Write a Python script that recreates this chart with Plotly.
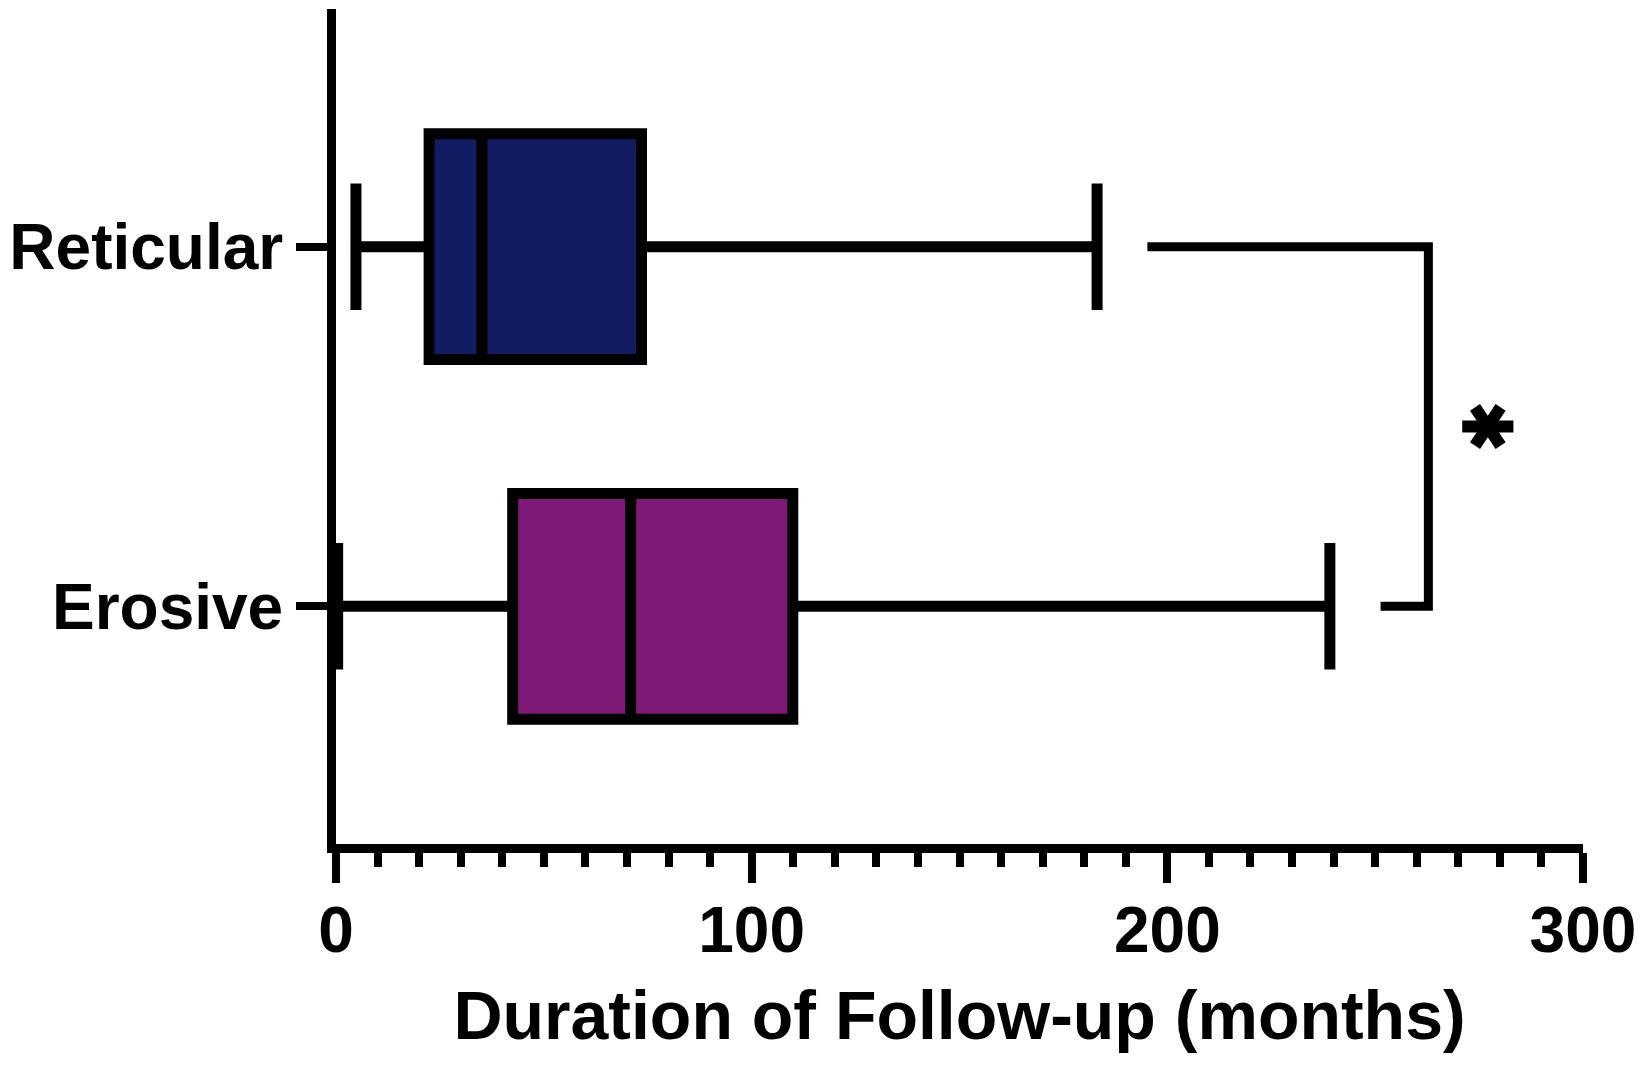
import plotly.graph_objects as go

# box summary values (months)
groups = ["Reticular", "Erosive"]
q1 = [22.4, 42.5]
median = [35.1, 70.9]
q3 = [73.5, 109.9]
lower = [4.8, 0.4]
upper = [183.1, 239.1]
fills = ["#131C63", "#7E1A76"]

# significance bracket between the two groups
bracket_x = [195.2, 262.8, 262.8, 251.3]
bracket_y = ["Reticular", "Reticular", "Erosive", "Erosive"]
star_x = 277.1
star_y = 0.5

x_ticks = [0, 100, 200, 300]
y_range = [-0.661, 1.661]

fig = go.Figure()

for i, g in enumerate(groups):
    fig.add_trace(go.Box(
        y=[g],
        q1=[q1[i]],
        median=[median[i]],
        q3=[q3[i]],
        lowerfence=[lower[i]],
        upperfence=[upper[i]],
        orientation="h",
        boxpoints=False,
        fillcolor=fills[i],
        line=dict(color="black", width=11),
        width=0.628,
        whiskerwidth=0.56,
        showlegend=False,
        hoverinfo="skip",
    ))

fig.add_trace(go.Scatter(
    x=bracket_x,
    y=bracket_y,
    mode="lines",
    line=dict(color="black", width=9),
    showlegend=False,
    hoverinfo="skip",
))

# asterisk: two three-armed symbols on top of each other
for sym in ["y-right-open", "y-left-open"]:
    fig.add_trace(go.Scatter(
        x=[star_x], y=[star_y], yaxis="y2",
        mode="markers",
        marker=dict(symbol=sym, size=32, color="black",
                    line=dict(color="black", width=12)),
        showlegend=False,
        hoverinfo="skip",
    ))

tick_font = dict(family="Liberation Sans", size=64, color="black", weight="bold")

fig.update_xaxes(
    range=[0, 300],
    tickvals=x_ticks,
    showline=True, linewidth=9, linecolor="black",
    ticks="outside", ticklen=30, tickwidth=8, tickcolor="black",
    minor=dict(dtick=10, ticks="outside", ticklen=14, tickwidth=8, tickcolor="black", showgrid=False),
    showgrid=False, zeroline=False,
    tickfont=tick_font,
    ticklabelstandoff=-8,
    ticklabeloverflow="allow",
    title=dict(text="Duration of Follow-up (months)",
               font=dict(family="Liberation Sans", size=68, color="black", weight="bold"),
               standoff=30),
)

fig.update_yaxes(
    type="category",
    categoryorder="array",
    categoryarray=["Erosive", "Reticular"],
    range=y_range,
    showline=True, linewidth=9, linecolor="black",
    ticks="outside", ticklen=31, tickwidth=8, tickcolor="black",
    showgrid=False, zeroline=False,
    tickfont=tick_font,
)

fig.update_layout(
    width=1629, height=1063,
    margin=dict(l=308, r=51, t=1, b=227),
    plot_bgcolor="white",
    paper_bgcolor="white",
    boxmode="overlay",
    yaxis2=dict(overlaying="y", range=y_range, visible=False),
)

fig.write_html("out.html")
